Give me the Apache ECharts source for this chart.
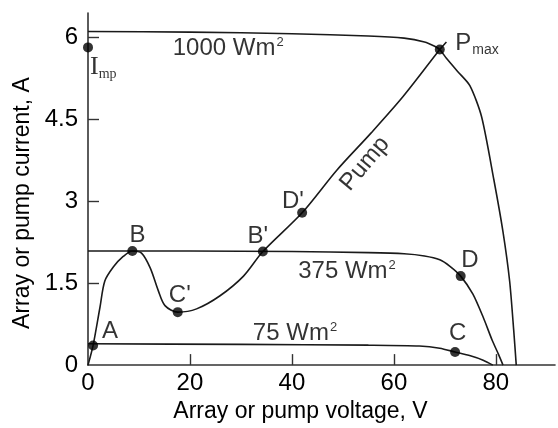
<!DOCTYPE html>
<html>
<head>
<meta charset="utf-8">
<script src="https://cdn.jsdelivr.net/npm/echarts@6/dist/echarts.min.js"></script>
<style>html,body{margin:0;padding:0;background:#fff}#c{width:558px;height:428px}</style>
</head>
<body>
<div id="c"></div>
<script>
// Curves: [voltage V, current A]
var curve1000 = [[0,6.11],[20,6.10],[40,6.07],[55,6.03],[62,5.99],[66,5.92],[68,5.84],[69,5.78],[70.3,5.62],[72.5,5.38],[74.9,5.12],[77.2,4.55],[79.6,3.4],[81.4,2.44],[82.7,1.54],[83.5,0.64],[84,0]];
var curve375 = [[0,2.09],[20,2.09],[40,2.08],[55,2.06],[62,2.04],[66,2.0],[69,1.93],[71,1.81],[73.1,1.63],[75.5,1.3],[77.5,0.88],[79.3,0.45],[80.5,0.2],[81.4,0]];
var curve75 = [[0,0.39],[30,0.38],[55,0.365],[65,0.35],[69,0.31],[72,0.24],[75,0.17],[77.5,0.09],[79.4,0]];
var pumpCurve = [[0,0],[1,0.36],[2.35,1.06],[3.3,1.54],[5,1.8],[6.9,1.99],[8.7,2.09],[10.5,2.05],[12.2,1.78],[13.8,1.36],[15.1,1.09],[17.6,0.97],[21.3,1.03],[25.9,1.27],[30.5,1.63],[34.3,2.08],[42,2.79],[48.8,3.57],[55.5,4.25],[61.8,4.92],[69,5.78],[70.3,5.92]];
// Marked operating points
var pointNames = ['A','B',"C'","B'","D'",'D','C','Pmax','Imp'];
var pointValues = [[1,0.36],[8.7,2.09],[17.6,0.97],[34.3,2.08],[42,2.79],[73.1,1.63],[72,0.24],[69,5.78],[0,5.82]];
// Text annotations: label text and anchor (data units)
var noteTexts = ['{n|A}','{n|B}',"{n|C'}","{n|B'}","{n|D'}",'{n|D}','{n|C}','{n|P}{sb|max}','{ser|I}{sbs|mp}','{n|1000 Wm}{sp|2}','{n|375 Wm}{sp|2}','{n|75 Wm}{sp|2}','{n|Pump}'];
var noteAnchors = [[4.3,0.62],[9.7,2.38],[18.0,1.28],[33.3,2.36],[40.2,3.0],[74.9,1.91],[72.5,0.58],[76.3,5.9],[3.0,5.45],[27.5,5.8],[50.8,1.72],[40.6,0.58],[54.3,3.69]];
var noteRotate = [0,0,0,0,0,0,0,0,0,0,0,0,50];
var xTicks = [0,20,40,60,80];
var yTicks = [0,1.5,3,4.5,6];

var FONT = '"Liberation Sans", Arial, sans-serif';
var ink = '#000';
var lineStyle = {color: '#1a1a1a', width: 1.6};

var chart = echarts.init(document.getElementById('c'));
var notes = noteTexts.map(function(t, i){
  return {value: noteAnchors[i], label: {formatter: t, rotate: noteRotate[i]}};
});
var rich = {
  n: {fontSize: 24, fontFamily: FONT, color: ink, lineHeight: 26},
  sb: {fontSize: 14, fontFamily: FONT, color: ink, padding: [14,0,0,1]},
  sp: {fontSize: 13, fontFamily: FONT, color: ink, padding: [0,0,12,1]},
  ser: {fontSize: 26, fontFamily: '"Liberation Serif", "Times New Roman", serif', color: ink},
  sbs: {fontSize: 14, fontFamily: '"Liberation Serif", "Times New Roman", serif', color: ink, padding: [14,0,0,0]}
};
chart.setOption({
  animation: false,
  backgroundColor: '#fff',
  grid: {left: 88, right: 3, top: 13, bottom: 55.5},
  xAxis: {
    type: 'value', min: 0, max: 91.6, interval: 20,
    name: 'Array or pump voltage, V', nameLocation: 'middle', nameGap: 25,
    nameTextStyle: {fontSize: 23, fontFamily: FONT, color: ink, padding: [0,42,0,0], verticalAlign: 'top'},
    axisLine: {lineStyle: {color: '#333', width: 1.6}},
    axisTick: {inside: true, length: 11, lineStyle: {color: '#333', width: 1.4},
      customValues: xTicks.slice(1)},
    axisLabel: {fontSize: 24, fontFamily: FONT, color: ink, margin: 6,
      customValues: xTicks,
      formatter: function(v){ return xTicks.indexOf(v) >= 0 ? String(v) : ''; }},
    splitLine: {show: false}
  },
  yAxis: {
    type: 'value', min: 0, max: 6.45, interval: 1.5,
    name: 'Array or pump current, A', nameLocation: 'middle', nameGap: 48,
    nameTextStyle: {fontSize: 23, fontFamily: FONT, color: ink, padding: [0,28,0,0]},
    axisLine: {show: true, lineStyle: {color: '#333', width: 1.6}},
    axisTick: {show: true, inside: true, length: 11, lineStyle: {color: '#333', width: 1.4},
      customValues: yTicks.slice(1)},
    axisLabel: {fontSize: 24, fontFamily: FONT, color: ink, margin: 10,
      customValues: yTicks,
      formatter: function(v){ return yTicks.indexOf(v) >= 0 ? String(v) : ''; }},
    splitLine: {show: false}
  },
  series: [
    {type: 'line', data: curve1000, smooth: 0.25, showSymbol: false, lineStyle: lineStyle},
    {type: 'line', data: curve375, smooth: 0.25, showSymbol: false, lineStyle: lineStyle},
    {type: 'line', data: curve75, smooth: 0.25, showSymbol: false, lineStyle: lineStyle},
    {type: 'line', data: pumpCurve, smooth: 0.3, showSymbol: false, lineStyle: lineStyle},
    {type: 'scatter', data: pointValues.map(function(v, i){ return {name: pointNames[i], value: v}; }),
      symbolSize: 10, itemStyle: {color: '#000'}, z: 5},
    {type: 'scatter', data: notes, symbolSize: 0, silent: true, z: 6,
      label: {show: true, position: 'inside', rich: rich, color: ink}}
  ]
});
</script>
</body>
</html>
